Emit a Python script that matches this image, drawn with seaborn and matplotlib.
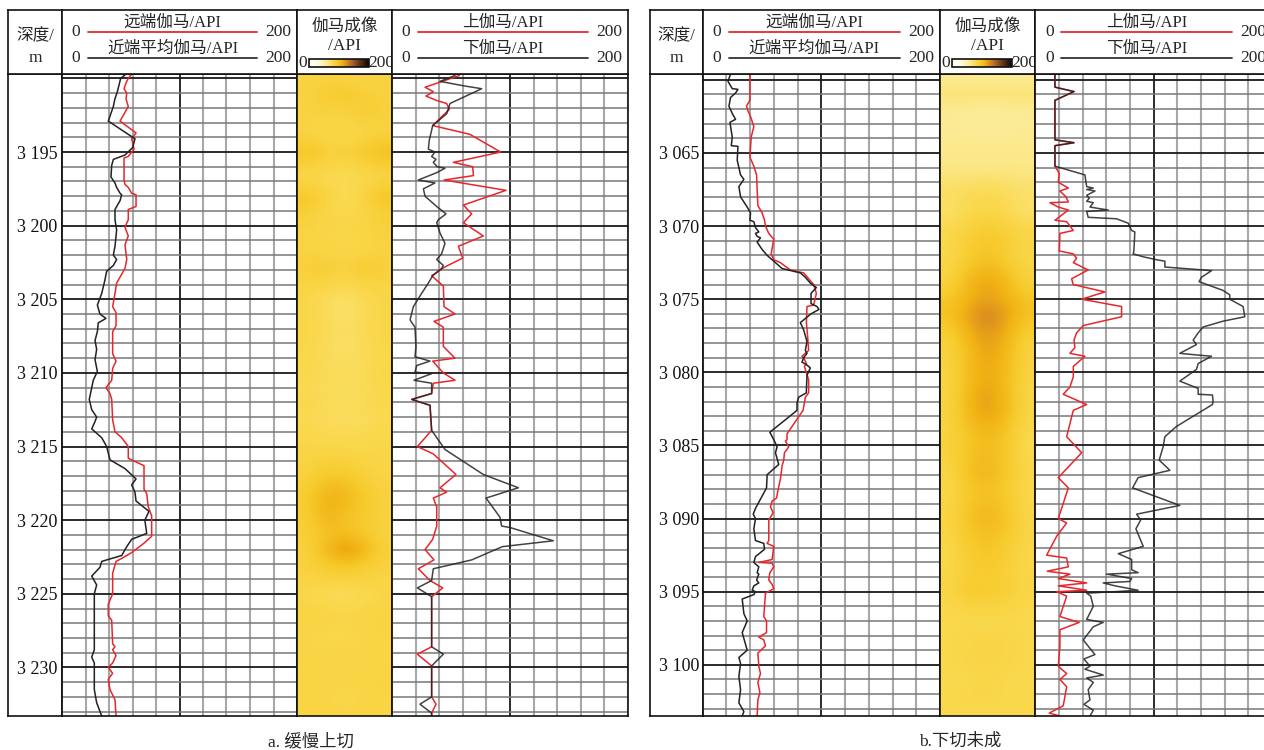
# plot.py
# Gamma log comparison: far / near gamma, gamma image, upper / lower gamma

import matplotlib
matplotlib.use("Agg")
import matplotlib.pyplot as plt
from matplotlib.colors import LinearSegmentedColormap, Normalize
from matplotlib.cm import ScalarMappable
from matplotlib.ticker import MultipleLocator, FixedLocator, FuncFormatter
import seaborn as sns

# ---------------- data: panel a (slow up-cut) ----------------
a_depth_range = (3189.7, 3233.3)
a_depth_ticks = [3195, 3200, 3205, 3210, 3215, 3220, 3225, 3230]

a_far_depth = [3189.7, 3190.0, 3190.3, 3190.7, 3191.0, 3191.4, 3191.9, 3192.9, 3193.7, 3194.1,
               3194.8, 3195.3, 3195.4, 3195.9, 3196.9, 3197.2, 3197.4, 3197.8, 3197.9, 3198.7,
               3198.9, 3199.6, 3200.1, 3200.7, 3201.3, 3202.3, 3202.9, 3203.9, 3204.6, 3205.5,
               3205.9, 3206.8, 3207.2, 3208.7, 3209.2, 3209.7, 3210.5, 3211.0, 3211.4, 3211.8,
               3213.2, 3214.0, 3214.4, 3215.0, 3215.8, 3216.3, 3217.9, 3218.2, 3219.1, 3219.7,
               3221.1, 3221.6, 3222.2, 3222.6, 3222.8, 3223.6, 3225.0, 3225.7, 3226.5, 3226.8,
               3228.4, 3228.6, 3228.8, 3229.2, 3229.7, 3230.0, 3230.4, 3230.8, 3231.5, 3232.2,
               3233.3]
a_far_gr = [59.3, 56.4, 54.5, 52.8, 55.1, 54.5, 56.4, 49.4, 63.0, 59.3,
            61.3, 56.4, 52.8, 52.8, 52.8, 53.6, 56.4, 59.3, 63.0, 63.0,
            56.4, 56.4, 53.6, 56.4, 53.6, 55.1, 53.6, 46.5, 45.1, 43.1,
            46.0, 46.0, 43.1, 43.1, 46.0, 43.1, 42.3, 37.4, 40.8, 42.3,
            43.1, 45.1, 50.8, 56.4, 56.4, 69.8, 69.8, 72.1, 73.4, 76.3,
            76.3, 69.2, 59.3, 50.8, 46.0, 43.1, 43.1, 39.4, 39.4, 42.3,
            43.1, 45.1, 43.1, 46.0, 43.1, 39.4, 43.1, 39.4, 40.8, 45.1,
            46.0]

a_near_depth = [3189.7, 3190.0, 3190.3, 3190.9, 3191.4, 3191.9, 3192.9, 3194.1, 3194.7, 3195.2,
                3195.5, 3195.9, 3196.7, 3197.1, 3197.4, 3197.8, 3197.9, 3198.3, 3198.9, 3199.6,
                3200.3, 3201.4, 3202.0, 3202.3, 3202.7, 3203.1, 3203.7, 3204.6, 3205.4, 3206.0,
                3206.3, 3206.6, 3207.2, 3207.8, 3208.4, 3209.1, 3209.9, 3210.5, 3211.0, 3211.8,
                3212.5, 3213.0, 3213.3, 3213.8, 3214.1, 3214.4, 3215.0, 3215.9, 3216.5, 3217.2,
                3217.6, 3218.1, 3218.7, 3219.4, 3220.0, 3220.9, 3221.3, 3221.8, 3222.4, 3222.8,
                3223.2, 3223.8, 3224.4, 3225.0, 3226.5, 3228.8, 3229.3, 3229.7, 3231.5, 3232.4,
                3233.3]
a_near_gr = [54.5, 49.9, 49.0, 47.1, 45.0, 43.7, 39.4, 62.1, 60.1, 53.6,
             43.7, 42.3, 41.7, 45.1, 46.5, 49.4, 50.8, 49.4, 45.1, 45.1,
             46.5, 45.1, 43.7, 46.5, 43.7, 38.0, 36.5, 33.8, 30.1, 32.3,
             37.4, 30.9, 30.1, 28.1, 29.5, 28.1, 30.1, 26.6, 25.3, 23.2,
             25.3, 29.5, 28.1, 25.3, 29.5, 33.8, 38.0, 40.8, 53.6, 63.0,
             59.3, 62.1, 63.0, 74.0, 70.5, 72.1, 59.3, 55.1, 50.8, 33.8,
             32.3, 25.3, 29.5, 27.5, 27.5, 27.5, 25.3, 27.5, 27.5, 29.5,
             33.8]

a_up_depth = [3189.8, 3190.6, 3190.9, 3191.2, 3191.5, 3191.7, 3192.1, 3192.6, 3193.2, 3193.8,
              3195.0, 3195.7, 3196.0, 3196.6, 3196.9, 3197.6, 3198.6, 3199.2, 3199.8, 3200.7,
              3201.4, 3202.2, 3202.8, 3203.4, 3204.1, 3205.5, 3206.0, 3206.5, 3206.9, 3208.2,
              3209.0, 3209.2, 3210.0, 3210.5, 3210.7, 3211.4, 3211.8, 3212.2, 3213.9, 3215.0,
              3215.5, 3216.9, 3217.8, 3218.1, 3218.5, 3219.1, 3220.4, 3221.3, 3222.0, 3222.7,
              3223.3, 3224.1, 3224.6, 3225.2, 3228.6, 3229.1, 3229.9, 3232.0, 3232.5, 3233.1,
              3233.3]
a_up_gr = [57.1, 28.0, 35.0, 28.8, 37.9, 46.3, 48.6, 42.1, 34.5, 66.1,
           92.1, 52.0, 68.4, 69.0, 44.1, 96.6, 60.5, 67.5, 60.5, 77.4,
           56.2, 59.9, 44.9, 33.6, 43.5, 44.1, 53.4, 35.6, 43.5, 43.5,
           53.4, 34.5, 43.5, 53.4, 35.0, 33.6, 16.7, 32.2, 33.6, 21.5,
           35.0, 54.2, 40.7, 46.3, 35.0, 37.9, 37.9, 34.5, 28.0, 35.6,
           22.3, 32.2, 43.0, 33.6, 33.6, 21.5, 33.6, 33.6, 37.3, 33.6,
           33.6]

a_down_depth = [3189.8, 3190.2, 3190.5, 3190.7, 3191.7, 3192.4, 3193.2, 3194.2, 3194.8, 3195.0,
                3195.3, 3195.5, 3195.7, 3196.0, 3196.1, 3196.4, 3196.9, 3197.0, 3197.1, 3197.5,
                3198.0, 3198.7, 3199.2, 3199.6, 3199.8, 3200.5, 3201.2, 3201.9, 3202.3, 3202.7,
                3202.9, 3203.4, 3203.9, 3204.6, 3205.5, 3206.4, 3206.9, 3208.2, 3208.9, 3209.2,
                3209.5, 3209.95, 3210.05, 3210.5, 3210.7, 3211.4, 3211.8, 3212.2, 3213.9, 3215.2,
                3216.9, 3217.8, 3218.5, 3219.8, 3220.4, 3220.5, 3221.4, 3221.8, 3222.7, 3223.3,
                3224.1, 3224.6, 3225.2, 3228.6, 3229.1, 3229.9, 3232.0, 3232.5, 3233.1, 3233.3]
a_down_gr = [53.4, 40.7, 60.5, 76.0, 49.2, 46.3, 34.5, 31.6, 30.8, 36.4,
             33.6, 37.3, 35.0, 38.4, 44.9, 37.9, 22.3, 29.4, 36.4, 26.6,
             28.0, 37.9, 45.8, 39.2, 37.9, 40.7, 44.9, 42.1, 37.9, 43.5,
             42.1, 34.5, 30.8, 25.1, 18.1, 15.3, 19.5, 20.3, 19.5, 32.2,
             20.9, 19.5, 33.6, 18.6, 33.6, 33.6, 16.7, 32.2, 33.6, 44.9,
             77.4, 107.1, 79.7, 91.5, 92.9, 100.0, 136.7, 93.5, 67.5, 35.0,
             33.6, 21.5, 33.6, 33.6, 43.5, 33.6, 33.6, 23.7, 33.6, 33.6]

# gamma image, panel a: one row per metre from 3190 m, five columns across the borehole
a_img_top = 3190
a_img = [
    [84, 86, 84, 85, 86], [86, 92, 96, 88, 86], [85, 88, 86, 94, 88], [84, 84, 82, 86, 86],
    [86, 82, 80, 84, 88], [100, 92, 86, 96, 104], [86, 82, 80, 84, 88], [82, 78, 76, 80, 84],
    [98, 88, 74, 86, 100], [90, 82, 78, 82, 90], [86, 84, 82, 84, 88], [84, 82, 80, 82, 86],
    [86, 84, 82, 84, 86], [88, 94, 84, 96, 88], [84, 82, 78, 82, 84], [82, 76, 72, 78, 82],
    [82, 76, 70, 76, 82], [82, 78, 74, 78, 82], [82, 76, 72, 76, 82], [80, 76, 74, 76, 80],
    [80, 78, 76, 78, 82], [78, 76, 74, 76, 80], [80, 78, 76, 78, 80], [78, 76, 74, 76, 78],
    [80, 78, 78, 78, 80], [82, 80, 80, 80, 82], [84, 88, 88, 84, 82], [86, 96, 94, 88, 84],
    [90, 106, 108, 94, 86], [92, 110, 104, 96, 86], [90, 106, 100, 94, 86], [88, 100, 102, 96, 86],
    [86, 104, 124, 112, 88], [86, 94, 98, 92, 86], [84, 86, 86, 86, 84], [80, 76, 74, 78, 82],
    [84, 82, 80, 82, 84], [84, 84, 82, 84, 86], [82, 80, 80, 82, 84], [84, 82, 84, 82, 84],
    [84, 82, 82, 82, 84], [84, 84, 82, 84, 86], [84, 82, 80, 82, 84], [84, 84, 82, 84, 84],
]

# ---------------- data: panel b (incision not formed) ----------------
b_depth_range = (3059.6, 3103.5)
b_depth_ticks = [3065, 3070, 3075, 3080, 3085, 3090, 3095, 3100]

b_far_depth = [3059.6, 3061.4, 3061.8, 3062.1, 3062.5, 3063.2, 3063.9, 3065.3, 3065.9, 3066.5,
               3067.5, 3068.6, 3069.1, 3069.6, 3070.0, 3070.5, 3070.9, 3071.9, 3072.3, 3072.5,
               3073.0, 3073.2, 3073.6, 3074.0, 3074.6, 3075.4, 3075.5, 3076.6, 3077.6, 3078.5,
               3078.9, 3079.1, 3079.4, 3079.6, 3080.5, 3081.4, 3081.7, 3082.1, 3082.6, 3083.7,
               3084.2, 3084.6, 3084.7, 3085.1, 3085.5, 3086.0, 3086.4, 3087.3, 3087.8, 3088.6,
               3088.8, 3089.2, 3089.6, 3090.1, 3091.5, 3091.7, 3091.9, 3092.8, 3093.0, 3093.05,
               3093.3, 3093.7, 3094.2, 3094.5, 3094.8, 3095.1, 3096.0, 3096.7, 3097.0, 3097.8,
               3098.1, 3098.3, 3098.7, 3099.2, 3100.1, 3100.6, 3101.2, 3101.9, 3102.4, 3103.5]
b_far_gr = [39.8, 39.8, 36.9, 38.1, 40.3, 43.1, 40.9, 39.8, 43.1, 45.4,
            45.9, 46.5, 50.1, 52.1, 52.9, 55.7, 59.9, 57.7, 59.9, 65.5,
            73.9, 85.1, 89.3, 93.5, 95.8, 93.5, 87.9, 87.4, 88.5, 89.3,
            83.7, 85.7, 87.4, 85.7, 89.3, 89.3, 86.5, 85.7, 84.6, 75.3,
            71.1, 71.1, 69.7, 72.5, 68.9, 68.3, 66.9, 65.5, 64.1, 62.2,
            58.5, 57.1, 59.4, 55.7, 55.7, 54.3, 59.9, 58.5, 47.3, 58.5,
            59.9, 56.6, 55.7, 58.5, 59.9, 52.9, 52.1, 51.5, 53.8, 53.8,
            47.3, 51.5, 52.9, 46.5, 47.3, 48.7, 46.5, 48.2, 46.5, 45.9]

b_near_depth = [3059.6, 3060.1, 3060.6, 3060.65, 3060.9, 3061.2, 3061.8, 3062.3, 3062.7, 3062.9,
                3063.2, 3063.9, 3064.5, 3064.55, 3065.5, 3066.5, 3066.8, 3067.3, 3068.0, 3068.7,
                3069.1, 3069.6, 3069.7, 3070.1, 3070.4, 3070.5, 3070.7, 3070.8, 3071.1, 3071.6,
                3072.0, 3072.4, 3072.9, 3073.2, 3073.5, 3073.9, 3074.2, 3074.6, 3075.3, 3075.5,
                3075.7, 3076.0, 3076.6, 3077.1, 3077.9, 3078.5, 3078.7, 3079.0, 3079.3, 3079.5,
                3079.7, 3080.2, 3081.2, 3081.4, 3081.7, 3082.1, 3082.6, 3084.1, 3084.6, 3085.1,
                3085.5, 3086.3, 3087.0, 3087.9, 3089.3, 3089.7, 3090.0, 3090.7, 3091.5, 3091.7,
                3092.1, 3092.6, 3093.0, 3093.3, 3093.7, 3093.8, 3094.2, 3094.4, 3094.6, 3094.9,
                3095.0, 3095.2, 3095.5, 3096.5, 3097.0, 3097.8, 3099.0, 3099.5, 3099.9, 3100.8,
                3101.7, 3102.6, 3103.2, 3103.5]
b_near_gr = [23.5, 21.3, 24.9, 29.7, 27.7, 23.5, 22.1, 24.9, 27.7, 23.0,
             23.5, 24.9, 24.1, 29.7, 29.1, 31.9, 34.7, 30.5, 31.9, 37.5,
             40.3, 39.8, 43.1, 44.5, 47.3, 44.5, 45.9, 48.7, 45.9, 50.1,
             54.3, 59.9, 66.9, 82.3, 86.5, 90.7, 95.8, 91.3, 91.3, 96.3,
             98.0, 91.3, 82.3, 85.1, 87.9, 86.5, 87.9, 85.1, 83.7, 87.9,
             90.7, 87.9, 87.4, 87.4, 80.9, 79.5, 79.5, 56.6, 59.9, 62.7,
             61.3, 64.1, 54.3, 53.8, 44.5, 42.6, 44.5, 43.1, 44.5, 51.5,
             52.1, 44.5, 43.1, 47.3, 45.9, 47.3, 45.4, 47.3, 43.1, 41.7,
             44.5, 43.1, 33.3, 34.7, 37.5, 33.3, 37.5, 30.5, 31.9, 30.5,
             31.9, 30.5, 34.7, 33.3]

b_up_depth = [3059.6, 3060.5, 3060.8, 3061.4, 3064.1, 3064.3, 3064.5, 3065.9, 3066.4, 3067.0,
              3067.4, 3067.6, 3068.0, 3068.35, 3068.4, 3068.7, 3068.9, 3069.6, 3069.7, 3070.3,
              3070.5, 3071.7, 3071.9, 3072.2, 3072.5, 3073.0, 3073.6, 3074.0, 3074.5, 3075.0,
              3075.5, 3076.2, 3076.8, 3077.3, 3077.8, 3078.3, 3078.7, 3078.9, 3079.6, 3080.3,
              3081.0, 3081.5, 3082.2, 3082.6, 3084.4, 3085.5, 3087.2, 3087.9, 3090.0, 3090.3,
              3091.2, 3092.5, 3092.7, 3093.3, 3093.6, 3093.8, 3094.1, 3094.4, 3094.6, 3094.9,
              3095.0, 3095.3, 3096.7, 3097.1, 3097.6, 3098.7, 3100.1, 3100.6, 3101.0, 3101.5,
              3102.8, 3103.3, 3103.5]
b_up_gr = [16.6, 16.6, 32.7, 16.6, 16.6, 32.7, 16.6, 16.6, 20.3, 19.4,
           27.9, 20.8, 25.9, 27.9, 12.4, 19.4, 27.9, 16.6, 26.5, 32.1,
           20.8, 20.3, 32.1, 34.9, 32.1, 44.7, 30.7, 32.1, 58.8, 39.2,
           72.9, 72.9, 40.5, 34.9, 32.7, 33.5, 29.3, 41.9, 32.1, 32.1,
           29.3, 23.6, 43.4, 32.1, 26.5, 39.2, 19.4, 27.9, 19.4, 26.5,
           18.1, 9.6, 26.5, 27.9, 10.1, 29.3, 19.4, 43.4, 19.4, 43.4,
           18.1, 26.5, 20.8, 37.1, 20.8, 20.8, 19.4, 26.5, 20.8, 26.5,
           23.6, 11.8, 20.8]

b_down_depth = [3059.6, 3060.5, 3060.8, 3061.4, 3064.1, 3064.3, 3064.5, 3065.9, 3066.5, 3067.3,
                3067.4, 3067.5, 3067.6, 3067.9, 3068.1, 3068.3, 3068.4, 3068.7, 3068.9, 3069.0,
                3069.4, 3069.5, 3069.8, 3070.3, 3070.4, 3071.7, 3071.9, 3072.1, 3072.3, 3072.4,
                3072.8, 3073.0, 3073.05, 3073.5, 3073.8, 3074.4, 3074.7, 3075.0, 3075.5, 3076.2,
                3076.5, 3076.9, 3077.3, 3077.8, 3078.1, 3078.7, 3078.8, 3078.9, 3079.4, 3079.8,
                3080.6, 3081.1, 3081.5, 3081.55, 3082.0, 3082.2, 3083.7, 3084.4, 3085.1, 3086.0,
                3086.7, 3087.2, 3087.9, 3089.1, 3089.7, 3090.1, 3090.7, 3091.9, 3092.4, 3092.8,
                3093.5, 3093.7, 3093.8, 3094.1, 3094.3, 3094.4, 3094.6, 3094.9, 3095.0, 3095.1,
                3095.3, 3096.0, 3096.9, 3097.1, 3097.4, 3098.3, 3099.3, 3099.6, 3100.1, 3100.3,
                3100.7, 3100.9, 3101.2, 3101.7, 3102.4, 3102.7, 3103.1, 3103.5]
b_down_gr = [16.6, 16.6, 32.7, 16.6, 16.6, 32.7, 16.6, 16.6, 41.9, 43.4,
             49.0, 43.4, 50.4, 43.4, 45.6, 43.4, 49.0, 46.2, 61.6, 43.4,
             44.7, 68.7, 78.5, 81.4, 84.1, 83.3, 82.7, 91.2, 102.5, 109.5,
             109.5, 141.8, 148.9, 140.4, 138.4, 158.7, 164.3, 164.3, 175.6, 177.0,
             158.7, 141.8, 137.6, 133.4, 136.2, 122.1, 134.8, 148.9, 137.6, 136.2,
             122.1, 137.6, 137.6, 149.7, 150.2, 149.7, 119.3, 109.5, 108.0, 104.7,
             113.7, 86.9, 82.2, 122.1, 85.6, 89.0, 85.0, 91.2, 70.1, 81.4,
             81.4, 86.9, 60.3, 81.4, 79.9, 57.4, 67.3, 86.9, 67.3, 43.4,
             46.8, 49.0, 43.4, 57.4, 49.0, 40.5, 50.4, 41.1, 46.2, 41.9,
             57.4, 43.4, 49.0, 44.7, 46.2, 41.1, 49.0, 46.2]

# gamma image, panel b: one row per metre from 3060 m
b_img_top = 3060
b_img = [
    [58, 58, 58, 58, 58], [70, 70, 70, 70, 70], [58, 56, 56, 56, 58], [57, 56, 56, 56, 57],
    [58, 58, 58, 58, 58], [62, 62, 62, 62, 62], [62, 62, 62, 62, 62], [70, 72, 74, 72, 68],
    [74, 78, 80, 76, 72], [72, 78, 82, 78, 70], [78, 86, 92, 86, 80], [80, 90, 98, 90, 82],
    [80, 92, 100, 90, 82], [82, 100, 108, 98, 84], [86, 108, 116, 106, 88], [96, 110, 116, 110, 98],
    [100, 116, 130, 116, 100], [92, 112, 124, 112, 92], [86, 106, 118, 108, 86], [84, 104, 116, 106, 84],
    [84, 104, 114, 104, 84], [82, 106, 116, 104, 82], [84, 108, 118, 106, 82], [84, 106, 116, 104, 82],
    [84, 100, 108, 98, 80], [86, 98, 104, 96, 76], [84, 100, 106, 96, 80], [82, 102, 108, 96, 80],
    [80, 96, 100, 94, 80], [82, 98, 104, 96, 80], [84, 100, 108, 98, 82], [82, 96, 102, 96, 82],
    [80, 94, 98, 92, 80], [80, 92, 96, 90, 80], [82, 90, 92, 88, 82], [82, 96, 94, 90, 82],
    [80, 84, 84, 84, 80], [80, 80, 80, 80, 80], [80, 82, 82, 82, 80], [80, 82, 84, 82, 80],
    [80, 82, 82, 82, 80], [78, 80, 82, 80, 78], [80, 82, 82, 80, 80], [80, 80, 80, 80, 80],
]

# ---------------- style ----------------
W, H = 1264, 750
RED = "#e8262b"
BLACK = "#222222"
GAMMA_CMAP = LinearSegmentedColormap.from_list("gamma", [
    (0.0, "#ffffff"), (0.15, "#fff9e0"), (0.25, "#fdf0a8"), (0.325, "#fbe680"),
    (0.4, "#fad84c"), (0.475, "#f7ca2c"), (0.55, "#f1b214"), (0.625, "#da8c20"),
    (0.725, "#a8612a"), (0.85, "#5c3418"), (1.0, "#0a0402")])
NORM = Normalize(0, 200)

sns.set_style("white")
plt.rcParams["font.family"] = ["Liberation Serif", "Noto Sans CJK SC"]
plt.rcParams["axes.edgecolor"] = "#111111"
plt.rcParams["axes.linewidth"] = 1.2

HEAD_TOP, BODY_TOP, BODY_BOT = 10, 74, 716


def px_rect(x0, x1, y0, y1):
    """Pixel box (top-left origin) to figure fraction rect."""
    return [x0 / W, 1 - y1 / H, (x1 - x0) / W, (y1 - y0) / H]


def depth_label(v, pos):
    v = int(round(v))
    return f"{v // 1000} {v % 1000:03d}"


def style_track(ax, depth_range):
    ax.set_xlim(0, 200)
    ax.set_ylim(depth_range[1], depth_range[0])
    ax.xaxis.set_major_locator(FixedLocator([100]))
    ax.xaxis.set_minor_locator(MultipleLocator(20))
    ax.yaxis.set_major_locator(MultipleLocator(5))
    ax.yaxis.set_minor_locator(MultipleLocator(1))
    ax.xaxis.grid(True, which="minor", color="#a8a8a8", lw=1.5)
    ax.yaxis.grid(True, which="minor", color="#787878", lw=1.1)
    ax.grid(True, which="major", color="#1a1a1a", lw=1.3)
    ax.set_axisbelow(True)
    ax.tick_params(which="both", length=0, labelbottom=False, labelleft=False)
    ax.set_xlabel("")
    ax.set_ylabel("")


def header_axes(fig, x0, x1):
    ax = fig.add_axes(px_rect(x0, x1, HEAD_TOP, BODY_TOP))
    ax.set_xlim(0, x1 - x0)
    ax.set_ylim(BODY_TOP - HEAD_TOP, 0)
    ax.set_xticks([])
    ax.set_yticks([])
    ax.set_facecolor("white")
    return ax


def curve_header(ax, width, top_label, bottom_label):
    for y, label, color in [(22, top_label, RED), (48, bottom_label, "#333333")]:
        ax.plot([26, width - 40], [y, y], color=color, lw=1.3)
        ax.text((26 + width - 40) / 2, y - 1, label, ha="center", va="bottom", fontsize=12)
        ax.text(14, y, "0", ha="center", va="center", fontsize=12.5)
        ax.text(width - 19, y, "200", ha="center", va="center", fontsize=12.5)


def draw_panel(fig, cols, depth_range, depth_ticks, far, near, up, down, img, img_top, caption, cap_x):
    xd, x1, x2, x3, x4 = cols

    # depth column
    axd = fig.add_axes(px_rect(xd, x1, BODY_TOP, BODY_BOT))
    axd.set_xlim(0, 1)
    axd.set_ylim(depth_range[1], depth_range[0])
    axd.set_xticks([])
    axd.yaxis.set_major_locator(FixedLocator(depth_ticks))
    axd.yaxis.set_major_formatter(FuncFormatter(depth_label))
    axd.tick_params(axis="y", direction="in", length=6, width=1, pad=-6.5,
                    labelsize=13, colors="#111111")
    plt.setp(axd.get_yticklabels(), ha="left")

    # track 1: far / near gamma
    ax1 = fig.add_axes(px_rect(x1, x2, BODY_TOP, BODY_BOT))
    sns.lineplot(x=far[1], y=far[0], ax=ax1, sort=False, estimator=None, orient="y",
                 color=RED, linewidth=1.1)
    sns.lineplot(x=near[1], y=near[0], ax=ax1, sort=False, estimator=None, orient="y",
                 color=BLACK, linewidth=1.1)
    style_track(ax1, depth_range)

    # gamma image
    axi = fig.add_axes(px_rect(x2, x3, BODY_TOP, BODY_BOT))
    n_rows = len(img)
    axi.imshow(img, cmap=GAMMA_CMAP, norm=NORM, aspect="auto", interpolation="bicubic",
               extent=(0, 1, img_top + n_rows - 0.5, img_top - 0.5))
    axi.set_xlim(0, 1)
    axi.set_ylim(depth_range[1], depth_range[0])
    axi.set_xticks([])
    axi.set_yticks([])

    # track 2: upper / lower gamma
    ax2 = fig.add_axes(px_rect(x3, x4, BODY_TOP, BODY_BOT))
    sns.lineplot(x=up[1], y=up[0], ax=ax2, sort=False, estimator=None, orient="y",
                 color=RED, linewidth=1.1)
    sns.lineplot(x=down[1], y=down[0], ax=ax2, sort=False, estimator=None, orient="y",
                 color=BLACK, linewidth=1.1, alpha=0.85)
    style_track(ax2, depth_range)

    # headers
    hd = header_axes(fig, xd, x1)
    hd.text((x1 - xd) / 2, 26, "深度/", ha="center", va="center", fontsize=12)
    hd.text((x1 - xd) / 2, 48, "m", ha="center", va="center", fontsize=12.5)

    h1 = header_axes(fig, x1, x2)
    curve_header(h1, x2 - x1, "远端伽马/API", "近端平均伽马/API")

    hi = header_axes(fig, x2, x3)
    wi = x3 - x2
    hi.text(wi / 2, 17, "伽马成像", ha="center", va="center", fontsize=12)
    hi.text(wi / 2, 36, "/API", ha="center", va="center", fontsize=12.5)
    hi.text(6, 53, "0", ha="center", va="center", fontsize=12.5)
    hi.text(wi - 11, 53, "200", ha="center", va="center", fontsize=12.5)
    cax = fig.add_axes(px_rect(x2 + 12, x3 - 23, 59, 67))
    cb = fig.colorbar(ScalarMappable(norm=NORM, cmap=GAMMA_CMAP), cax=cax, orientation="horizontal")
    cb.set_ticks([])
    cb.outline.set_linewidth(1.2)

    h2 = header_axes(fig, x3, x4)
    curve_header(h2, x4 - x3, "上伽马/API", "下伽马/API")

    fig.text(cap_x / W, 1 - 742 / H, caption, ha="center", va="center", fontsize=12.5)


def main():
    fig = plt.figure(figsize=(W / 100, H / 100), dpi=100)
    fig.patch.set_facecolor("white")

    draw_panel(fig, (8, 62, 297, 392, 628), a_depth_range, a_depth_ticks,
               (a_far_depth, a_far_gr), (a_near_depth, a_near_gr),
               (a_up_depth, a_up_gr), (a_down_depth, a_down_gr),
               a_img, a_img_top, "a. 缓慢上切", 311)

    draw_panel(fig, (650, 702.7, 940, 1035.3, 1272), b_depth_range, b_depth_ticks,
               (b_far_depth, b_far_gr), (b_near_depth, b_near_gr),
               (b_up_depth, b_up_gr), (b_down_depth, b_down_gr),
               b_img, b_img_top, "b.下切未成", 960)

    fig.savefig("out.png", dpi=100, facecolor="white")


if __name__ == "__main__":
    main()
